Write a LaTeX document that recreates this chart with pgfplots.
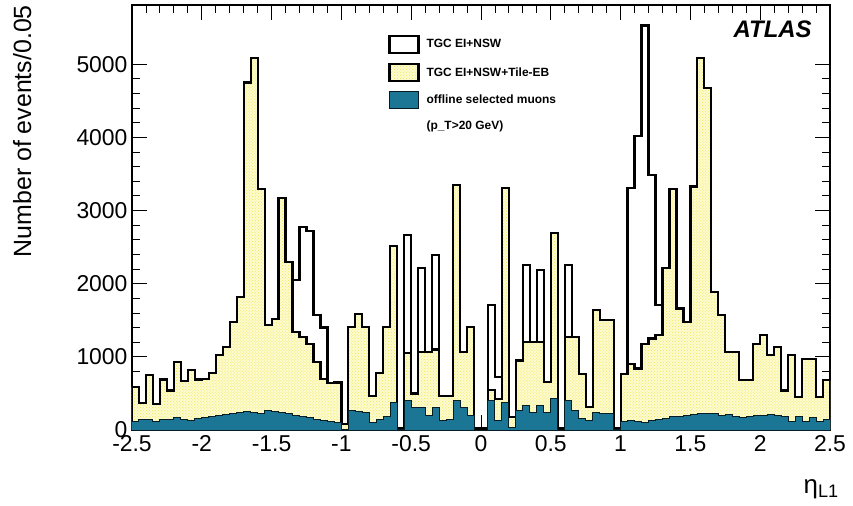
\documentclass[border=0pt]{standalone}
\usepackage{fontspec}
\setmainfont{Liberation Sans}
\usepackage{pgfplots}
\pgfplotsset{compat=1.18}
\usepackage{pgfplotstable}
\usetikzlibrary{patterns}
\definecolor{tealmu}{RGB}{27,118,150}
\definecolor{yelfill}{RGB}{253,251,208}
\definecolor{yeldot}{RGB}{240,230,85}

\pgfplotstableread{
x b y t
-2.50 590 590 120
-2.45 370 370 150
-2.40 750 750 140
-2.35 360 360 110
-2.30 690 690 150
-2.25 540 540 140
-2.20 930 930 170
-2.15 670 670 140
-2.10 815 815 130
-2.05 690 690 160
-2.00 700 700 170
-1.95 780 780 190
-1.90 1030 1030 200
-1.85 1130 1130 210
-1.80 1480 1480 230
-1.75 1820 1820 240
-1.70 4750 4750 250
-1.65 5080 5080 240
-1.60 3290 3290 230
-1.55 1430 1430 260
-1.50 1520 1520 250
-1.45 3170 3170 240
-1.40 2300 2300 220
-1.35 2050 1340 200
-1.30 2780 1270 190
-1.25 2720 1180 170
-1.20 1570 930 150
-1.15 1400 700 130
-1.10 640 640 120
-1.05 660 640 100
-1.00 80 80 10
-0.95 1410 1410 270
-0.90 1590 1590 250
-0.85 1410 1410 240
-0.80 460 460 100
-0.75 780 780 150
-0.70 1410 1410 180
-0.65 2510 2510 380
-0.60 20 20 10
-0.55 2670 1050 400
-0.50 500 500 310
-0.45 2210 1070 310
-0.40 1070 1070 200
-0.35 2390 1100 310
-0.30 470 470 130
-0.25 470 470 150
-0.20 3350 3350 400
-0.15 1070 1070 310
-0.10 1410 1410 200
-0.05 20 20 0
0.00 20 20 0
0.05 1710 550 400
0.10 725 420 130
0.15 3310 3310 380
0.20 180 180 40
0.25 950 950 270
0.30 2260 1205 336
0.35 1205 1205 245
0.40 2190 1205 336
0.45 656 656 245
0.50 2690 2690 427
0.55 20 20 0
0.60 2260 1270 405
0.65 1275 1275 270
0.70 770 770 153
0.75 313 313 130
0.80 1640 1640 245
0.85 1500 1500 222
0.90 1500 1500 222
0.95 30 30 10
1.00 770 770 110
1.05 3310 907 130
1.10 4020 840 120
1.15 5530 1180 100
1.20 3490 1250 130
1.25 1710 1300 150
1.30 2210 2210 160
1.35 3290 3290 180
1.40 1660 1660 190
1.45 1480 1480 200
1.50 3330 3330 210
1.55 5080 5080 220
1.60 4680 4680 230
1.65 1890 1890 220
1.70 1570 1570 200
1.75 1070 1070 210
1.80 1070 1070 190
1.85 680 680 170
1.90 680 680 180
1.95 1180 1180 200
2.00 1300 1300 200
2.05 1020 1020 210
2.10 1140 1140 200
2.15 540 540 190
2.20 1020 1020 120
2.25 450 450 180
2.30 975 975 120
2.35 975 975 170
2.40 450 450 110
2.45 680 680 150
2.50 680 680 150
}\hist

\begin{document}
\begin{tikzpicture}
\begin{axis}[
  scale only axis, width=698bp, height=425bp,
  xmin=-2.5, xmax=2.5, ymin=0, ymax=5810,
  axis line style={line width=1.2bp},
  tick align=inside, xtick pos=both, ytick pos=both,
  xtick={-2.5,-2,-1.5,-1,-0.5,0,0.5,1,1.5,2,2.5},
  ytick={0,1000,2000,3000,4000,5000},
  minor x tick num=4, minor y tick num=4,
  major tick length=15bp, minor tick length=8bp,
  every tick/.style={black, line width=0.9bp},
  /pgf/number format/assume math mode=true,
  /pgf/number format/1000 sep={},
  scaled ticks=false,
  ticklabel style={font=\fontsize{23}{26}\selectfont},
  xticklabel style={yshift=-2bp},
  yticklabel style={xshift=-1bp},
  every axis y label/.style={at={([xshift=-119bp]rel axis cs:0,1)}, rotate=90, anchor=north east, inner sep=0pt},
  ylabel={\fontsize{25}{28}\selectfont Number of events/0.05},
  every axis x label/.style={at={([xshift=9bp,yshift=-49bp]rel axis cs:1,0)}, anchor=north east, inner sep=0pt},
  xlabel={\fontsize{26}{28}\selectfont η\textsubscript{L1}},
  legend image code/.code={\draw[#1] (0bp,-8.5bp) rectangle (29bp,8.5bp);},
  legend style={draw=none, fill=none, at={(rel axis cs:0.367,0.93)}, anchor=north west,
    font=\fontsize{12}{13}\selectfont\bfseries, row sep=9bp, inner sep=0pt,
    /tikz/every odd column/.append style={column sep=5bp}},
  legend cell align=left,
]
\addplot[const plot mark left, fill=white, draw=black, line width=2.2bp] table[x=x, y=b] {\hist} \closedcycle;
\addlegendentry{TGC EI+NSW}
\addplot[const plot mark left, fill=yelfill, postaction={pattern=crosshatch dots, pattern color=yeldot}, draw=black, line width=2.2bp] table[x=x, y=y] {\hist} \closedcycle;
\addlegendentry{TGC EI+NSW+Tile-EB}
\addplot[const plot mark left, fill=tealmu, draw=black!75!tealmu, line width=1bp] table[x=x, y=t] {\hist} \closedcycle;
\addlegendentry{offline selected muons}
\addlegendimage{empty legend}
\addlegendentry{(p\_T>20 GeV)}
\node[anchor=north east, inner sep=0pt, font=\fontsize{24}{26}\selectfont\bfseries\itshape] at (rel axis cs:0.974,0.963) {ATLAS};
\end{axis}
\path (current axis.south west) ++(-132bp,-76bp) rectangle ([shift={(23bp,5bp)}]current axis.north east);
\end{tikzpicture}
\end{document}
